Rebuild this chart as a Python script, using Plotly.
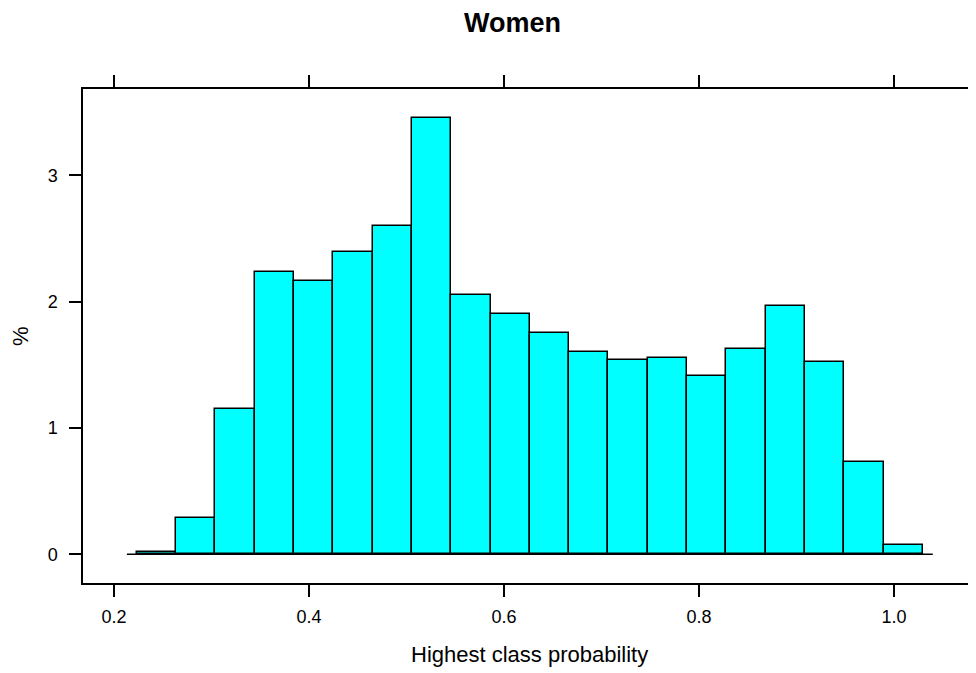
import plotly.graph_objects as go

# Histogram bin edges (20 equal bins) and bar heights in percent
bin_edges = [0.2233 + i * 0.04032 for i in range(21)]
percent = [0.02, 0.283, 1.152, 2.234, 2.16, 2.39, 2.60, 3.454, 2.055, 1.904,
           1.754, 1.598, 1.537, 1.55, 1.413, 1.627, 1.968, 1.524, 0.73, 0.073]
x_ticks = [0.2, 0.4, 0.6, 0.8, 1.0]
x_tick_text = ["0.2", "0.4", "0.6", "0.8", "1.0"]
y_ticks = [0, 1, 2, 3]

centers = [(bin_edges[i] + bin_edges[i + 1]) / 2 for i in range(len(percent))]
widths = [bin_edges[i + 1] - bin_edges[i] for i in range(len(percent))]
bw = widths[0]

FONT = "Liberation Sans, Arial, sans-serif"

fig = go.Figure()
fig.add_trace(go.Scatter(
    x=[bin_edges[0] - bw / 4, bin_edges[-1] + bw / 4], y=[0, 0],
    mode="lines", line=dict(color="black", width=1.5), hoverinfo="skip",
    showlegend=False))
fig.add_trace(go.Bar(
    x=centers, y=percent, width=widths,
    marker=dict(color="#00FFFF", line=dict(color="black", width=1.5)),
    showlegend=False))

fig.update_layout(
    width=968, height=665,
    margin=dict(l=75, r=1, t=81, b=90, autoexpand=False),
    paper_bgcolor="white", plot_bgcolor="white",
    font=dict(family=FONT, color="black"),
    bargap=0,
    annotations=[
        dict(text="<b>Women</b>", x=0.481, y=1.134, xref="paper", yref="paper",
             showarrow=False, font=dict(size=27, family=FONT, color="black"),
             xanchor="center", yanchor="middle"),
        dict(text="Highest class probability", x=0.5, y=-0.145, xref="paper",
             yref="paper", showarrow=False,
             font=dict(size=22, family=FONT, color="black"),
             xanchor="center", yanchor="middle"),
        dict(text="%", x=-0.0706, y=0.5, xref="paper", yref="paper",
             showarrow=False, textangle=-90,
             font=dict(size=22, family=FONT, color="black"),
             xanchor="center", yanchor="middle"),
    ],
)
fig.update_xaxes(
    range=[0.16821, 1.0831], tickvals=x_ticks, ticktext=x_tick_text,
    ticks="outside", ticklen=12, tickwidth=1.5, tickcolor="black",
    showline=True, linecolor="black", linewidth=1.5, mirror="allticks",
    showgrid=False, zeroline=False, ticklabelstandoff=5, automargin=False,
    tickfont=dict(size=18, family=FONT, color="black"))
fig.update_yaxes(
    range=[-0.228, 3.683], tickvals=y_ticks,
    ticks="outside", ticklen=12, tickwidth=1.5, tickcolor="black",
    showline=True, linecolor="black", linewidth=1.5, mirror="allticks",
    showgrid=False, zeroline=False, ticklabelstandoff=8, automargin=False,
    tickfont=dict(size=18, family=FONT, color="black"))

fig.write_html("out.html")
